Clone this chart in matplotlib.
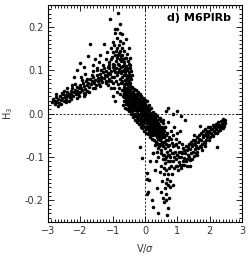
import numpy as np
import matplotlib
matplotlib.use('Agg')
from matplotlib import pyplot as plt
from matplotlib.ticker import MultipleLocator

# points, grouped by region (V/sigma, H3)
left_arm = [
    (-2.88, 0.026), (-2.85, 0.034), (-2.80, 0.022), (-2.77, 0.030), (-2.74, 0.038), (-2.71, 0.027), (-2.68, 0.033), (-2.65, 0.024), (-2.62, 0.040), (-2.60, 0.031),
    (-2.57, 0.036), (-2.55, 0.045), (-2.52, 0.029), (-2.49, 0.038), (-2.46, 0.043), (-2.44, 0.034), (-2.41, 0.050), (-2.38, 0.040), (-2.36, 0.046), (-2.33, 0.037),
    (-2.30, 0.052), (-2.28, 0.044), (-2.25, 0.058), (-2.22, 0.041), (-2.20, 0.049), (-2.17, 0.055), (-2.15, 0.046), (-2.12, 0.061), (-2.10, 0.052), (-2.07, 0.044),
    (-2.05, 0.058), (-2.02, 0.066), (-2.00, 0.050), (-1.97, 0.060), (-1.95, 0.055), (-1.92, 0.070), (-1.90, 0.048), (-1.88, 0.063), (-1.85, 0.057), (-1.83, 0.074),
    (-1.80, 0.066), (-1.78, 0.052), (-1.75, 0.070), (-1.72, 0.061), (-1.70, 0.080), (-1.68, 0.067), (-1.65, 0.075), (-1.62, 0.058), (-1.60, 0.084), (-1.58, 0.071),
    (-1.55, 0.078), (-1.52, 0.066), (-1.50, 0.088), (-1.47, 0.074), (-1.45, 0.081), (-1.42, 0.069), (-1.40, 0.092), (-1.37, 0.078), (-1.35, 0.085), (-1.32, 0.072),
    (-1.30, 0.095), (-1.27, 0.083), (-1.25, 0.090), (-1.22, 0.076), (-1.20, 0.099), (-1.17, 0.087), (-1.15, 0.094), (-1.12, 0.080), (-1.10, 0.104), (-1.07, 0.091),
    (-1.05, 0.098), (-1.02, 0.085), (-1.00, 0.108), (-2.60, 0.021), (-2.35, 0.030), (-2.10, 0.036), (-1.85, 0.045), (-2.50, 0.052), (-2.25, 0.066), (-1.95, 0.078),
    (-2.75, 0.045), (-2.70, 0.018), (-2.58, 0.048), (-2.45, 0.026), (-2.40, 0.058), (-2.30, 0.034), (-2.18, 0.068), (-2.05, 0.040), (-1.98, 0.085), (-1.90, 0.040),
    (-1.80, 0.080), (-1.72, 0.050), (-1.65, 0.090), (-1.55, 0.060), (-1.48, 0.100), (-1.38, 0.064), (-1.28, 0.106), (-1.20, 0.070), (-1.12, 0.112), (-1.04, 0.075),
]

upper_cloud = [
    (-2.10, 0.100), (-2.00, 0.117), (-1.90, 0.108), (-1.76, 0.133), (-1.70, 0.160), (-1.62, 0.112), (-1.55, 0.125), (-1.48, 0.104), (-1.42, 0.118), (-1.38, 0.135),
    (-1.30, 0.112), (-1.27, 0.160), (-1.22, 0.126), (-1.18, 0.142), (-1.12, 0.118), (-1.08, 0.218), (-1.05, 0.150), (-1.02, 0.130), (-0.98, 0.165), (-0.95, 0.112),
    (-0.93, 0.195), (-0.90, 0.145), (-0.88, 0.175), (-0.86, 0.128), (-0.84, 0.232), (-0.82, 0.158), (-0.80, 0.140), (-0.78, 0.185), (-0.77, 0.207), (-0.76, 0.168),
    (-0.74, 0.122), (-0.72, 0.150), (-0.71, 0.184), (-0.70, 0.135), (-0.68, 0.162), (-0.66, 0.118), (-0.64, 0.145), (-0.62, 0.128), (-0.60, 0.172), (-0.58, 0.110),
    (-0.56, 0.138), (-0.54, 0.120), (-0.52, 0.105), (-0.50, 0.150), (-0.48, 0.112), (-0.46, 0.128), (-0.44, 0.098), (-0.93, 0.186), (-0.87, 0.195), (-1.00, 0.142),
    (-0.96, 0.158), (-0.85, 0.115), (-0.79, 0.125), (-0.69, 0.110), (-0.63, 0.102), (-1.15, 0.108), (-1.35, 0.100), (-1.60, 0.098), (-1.85, 0.092), (-2.20, 0.085),
    (-1.05, 0.125), (-1.00, 0.115), (-0.97, 0.100), (-0.94, 0.135), (-0.91, 0.120), (-0.89, 0.105), (-0.87, 0.150), (-0.85, 0.095), (-0.83, 0.135), (-0.81, 0.112),
    (-0.79, 0.098), (-0.77, 0.145), (-0.75, 0.108), (-0.73, 0.132), (-0.70, 0.098), (-0.68, 0.125), (-0.66, 0.088), (-0.64, 0.112), (-0.61, 0.095), (-0.59, 0.128),
    (-0.57, 0.085), (-0.55, 0.100), (-0.53, 0.078), (-0.51, 0.115), (-0.49, 0.090), (-0.47, 0.070), (-0.45, 0.105), (-0.43, 0.080), (-0.41, 0.062), (-0.40, 0.090),
]

mid_left = [
    (-1.00, 0.070), (-0.97, 0.085), (-0.95, 0.060), (-0.92, 0.095), (-0.90, 0.075), (-0.88, 0.050), (-0.86, 0.088), (-0.84, 0.068), (-0.82, 0.102), (-0.80, 0.058),
    (-0.78, 0.080), (-0.76, 0.045), (-0.75, 0.093), (-0.73, 0.070), (-0.71, 0.055), (-0.70, 0.085), (-0.68, 0.040), (-0.66, 0.100), (-0.65, 0.062), (-0.63, 0.078),
    (-0.61, 0.050), (-0.60, 0.090), (-0.58, 0.068), (-0.56, 0.035), (-0.55, 0.082), (-0.53, 0.058), (-0.51, 0.095), (-0.50, 0.072), (-0.48, 0.045), (-0.46, 0.085),
    (-1.05, 0.060), (-1.10, 0.075), (-1.15, 0.065), (-0.98, 0.040), (-0.92, 0.030),
]

center = [
    (-0.66, 0.030), (-0.65, 0.045), (-0.67, 0.055), (-0.64, 0.038),
    (-0.63, 0.050), (-0.62, 0.028), (-0.61, 0.042), (-0.63, 0.060),
    (-0.60, 0.033), (-0.59, 0.048), (-0.58, 0.022), (-0.60, 0.056),
    (-0.57, 0.040), (-0.56, 0.052), (-0.55, 0.026), (-0.57, 0.030),
    (-0.54, 0.045), (-0.53, 0.020), (-0.52, 0.037), (-0.54, 0.058),
    (-0.51, 0.030), (-0.50, 0.048), (-0.49, 0.015), (-0.51, 0.040),
    (-0.48, 0.025), (-0.47, 0.052), (-0.46, 0.035), (-0.48, 0.010),
    (-0.45, 0.042), (-0.44, 0.020), (-0.43, 0.030), (-0.45, 0.055),
    (-0.42, 0.015), (-0.41, 0.036), (-0.40, 0.046), (-0.42, 0.026),
    (-0.39, 0.005), (-0.38, 0.030), (-0.37, 0.040), (-0.39, 0.020), (-0.38, 0.050),
    (-0.36, 0.012), (-0.35, 0.026), (-0.34, 0.036), (-0.36, 0.046), (-0.35, 0.000),
    (-0.33, 0.018), (-0.32, 0.030), (-0.31, 0.008), (-0.33, 0.042), (-0.32, -0.005),
    (-0.30, 0.025), (-0.29, 0.012), (-0.28, 0.035), (-0.30, 0.000), (-0.29, 0.045),
    (-0.27, 0.020), (-0.26, 0.005), (-0.25, 0.030), (-0.27, 0.040), (-0.26, -0.008),
    (-0.24, 0.014), (-0.23, 0.026), (-0.22, 0.000), (-0.24, 0.036), (-0.23, -0.012),
    (-0.21, 0.008), (-0.20, 0.020), (-0.19, 0.032), (-0.21, -0.005), (-0.20, 0.042),
    (-0.18, 0.015), (-0.17, 0.000), (-0.16, 0.026), (-0.18, -0.015), (-0.17, 0.036),
    (-0.15, 0.008), (-0.14, 0.020), (-0.13, -0.008), (-0.15, 0.030), (-0.14, -0.020),
    (-0.12, 0.002), (-0.11, 0.014), (-0.10, 0.026), (-0.12, -0.012), (-0.11, -0.025),
    (-0.09, 0.008), (-0.08, -0.004), (-0.07, 0.020), (-0.09, -0.018), (-0.08, 0.030),
    (-0.06, 0.000), (-0.05, 0.012), (-0.04, -0.012), (-0.06, 0.024), (-0.05, -0.026),
    (-0.03, 0.006), (-0.02, -0.006), (-0.01, 0.018), (-0.03, -0.020), (-0.02, 0.028),
    (0.00, -0.002), (0.01, 0.010), (0.02, -0.014), (0.00, 0.022), (0.01, -0.030),
    (0.03, 0.004), (0.04, -0.008), (0.05, -0.022), (0.03, 0.016), (0.04, -0.035),
    (0.06, -0.004), (0.07, 0.008), (0.08, -0.016), (0.06, -0.028), (0.07, 0.018),
    (0.09, -0.010), (0.10, 0.002), (0.11, -0.022), (0.09, -0.034), (0.10, 0.012),
    (0.12, -0.004), (0.13, -0.016), (0.14, -0.028), (0.12, 0.008), (0.13, -0.040),
    (0.15, -0.010), (0.16, -0.022), (0.17, 0.002), (0.15, -0.034), (0.16, -0.045),
    (0.18, -0.014), (0.19, -0.004), (0.20, -0.026), (0.18, -0.038), (0.19, -0.050),
    (0.21, -0.018), (0.22, -0.006), (0.23, -0.030), (0.21, -0.042),
    (0.24, -0.012), (0.25, -0.024), (0.26, -0.036), (0.24, -0.050),
    (0.27, -0.016), (0.28, -0.028), (0.29, -0.040), (0.27, -0.006),
    (0.30, -0.020), (0.31, -0.032), (0.32, -0.044), (0.30, -0.010),
    (0.33, -0.024), (0.34, -0.036), (0.35, -0.014), (0.33, -0.050),
    (0.36, -0.028), (0.37, -0.040), (0.38, -0.018), (0.36, -0.054),
    (0.39, -0.032), (0.40, -0.022), (0.41, -0.046), (0.39, -0.058),
    (0.42, -0.036), (0.43, -0.026), (0.44, -0.050),
    (0.45, -0.040), (0.46, -0.030), (0.47, -0.054),
    (0.48, -0.042), (0.49, -0.034), (0.50, -0.056),
    (0.51, -0.038), (0.52, -0.048), (0.53, -0.030),
    (0.54, -0.044), (0.55, -0.052), (0.56, -0.036),
    (0.57, -0.046), (0.58, -0.040), (0.60, -0.050),
]

center_edge = [
    (-0.70, 0.075), (-0.68, 0.020), (-0.65, 0.068), (-0.62, 0.012), (-0.59, 0.070), (-0.56, 0.010), (-0.53, 0.066), (-0.50, 0.005), (-0.47, 0.064), (-0.44, 0.000),
    (-0.41, 0.060), (-0.38, -0.008), (-0.35, 0.056), (-0.32, -0.015), (-0.29, 0.055), (-0.26, -0.020), (-0.23, 0.050), (-0.20, -0.025), (-0.17, 0.046), (-0.14, -0.030),
    (-0.11, 0.040), (-0.08, -0.034), (-0.05, 0.036), (-0.02, -0.040), (0.01, 0.032), (0.04, -0.046), (0.07, 0.028), (0.10, -0.048), (0.13, 0.020), (0.16, -0.055),
    (0.19, 0.012), (0.22, -0.058), (0.25, 0.004), (0.28, -0.062), (0.31, 0.000), (0.34, -0.066), (0.37, -0.006), (0.40, -0.070), (0.43, -0.012), (0.46, -0.072),
    (0.49, -0.018), (0.52, -0.070), (0.55, -0.022), (0.58, -0.066), (0.61, -0.030), (0.64, -0.050),
    (-0.64, 0.048), (-0.58, 0.040), (-0.52, 0.028), (-0.46, 0.044), (-0.40, 0.034), (-0.34, 0.022), (-0.28, 0.026), (-0.22, 0.018), (-0.16, 0.010), (-0.10, 0.004),
    (-0.04, 0.000), (0.02, -0.006), (0.08, -0.012), (0.14, -0.018), (0.20, -0.020), (0.26, -0.028), (0.32, -0.030), (0.38, -0.036), (0.44, -0.040), (0.50, -0.044),
]

mid_right = [
    (0.56, -0.016), (0.62, -0.030), (0.65, -0.060), (0.68, -0.045), (0.70, -0.075), (0.72, -0.020), (0.75, -0.055), (0.78, -0.085), (0.80, -0.040), (0.82, -0.068),
    (0.85, -0.050), (0.88, -0.090), (0.90, -0.032), (0.92, -0.072), (0.95, -0.058), (0.98, -0.095), (1.00, -0.045), (1.03, -0.078), (1.05, -0.065), (1.08, -0.040),
    (0.45, -0.070), (0.50, -0.085), (0.55, -0.075), (0.60, -0.095), (0.63, -0.080), (0.66, -0.100), (0.40, -0.080), (0.35, -0.065), (0.30, -0.072), (0.25, -0.090),
    (-0.15, -0.078), (0.45, -0.060), (0.58, -0.065), (0.73, -0.095), (0.85, -0.110), (-0.10, -0.103),
    (0.65, 0.007), (0.87, 0.000), (1.10, -0.005), (0.46, -0.011), (0.70, 0.012), (1.00, 0.005),
    (0.60, -0.055), (0.64, -0.070), (0.67, -0.088), (0.70, -0.060), (0.74, -0.072), (0.77, -0.100), (0.80, -0.058), (0.83, -0.090), (0.86, -0.075), (0.90, -0.100),
    (0.93, -0.088), (0.96, -0.070), (0.52, -0.065), (0.48, -0.090), (0.43, -0.075), (0.38, -0.088), (0.55, -0.095), (0.62, -0.105), (0.70, -0.095), (0.78, -0.110),
]

right_arm = [
    (0.95, -0.105), (0.97, -0.122), (1.00, -0.095), (1.02, -0.130), (1.04, -0.112), (1.06, -0.088), (1.08, -0.118), (1.10, -0.100), (1.12, -0.125), (1.14, -0.092),
    (1.16, -0.110), (1.18, -0.080), (1.20, -0.102), (1.22, -0.118), (1.24, -0.016), (1.25, -0.090), (1.27, -0.075), (1.29, -0.105), (1.31, -0.085), (1.33, -0.095),
    (1.35, -0.070), (1.37, -0.100), (1.39, -0.082), (1.41, -0.065), (1.43, -0.092), (1.45, -0.076), (1.47, -0.060), (1.49, -0.088), (1.51, -0.070), (1.53, -0.082),
    (1.55, -0.062), (1.57, -0.092), (1.59, -0.074), (1.61, -0.055), (1.63, -0.080), (1.65, -0.066), (1.67, -0.050), (1.69, -0.075), (1.70, -0.028), (1.72, -0.060),
    (1.74, -0.045), (1.76, -0.070), (1.78, -0.055), (1.80, -0.040), (1.82, -0.065), (1.84, -0.050), (1.86, -0.036), (1.88, -0.060), (1.90, -0.045), (1.92, -0.055),
    (1.94, -0.032), (1.96, -0.048), (1.98, -0.040), (2.00, -0.055), (2.02, -0.030), (2.04, -0.044), (2.06, -0.036), (2.08, -0.050), (2.10, -0.026), (2.12, -0.040),
    (2.14, -0.032), (2.16, -0.046), (2.18, -0.024), (2.20, -0.036), (2.22, -0.028), (2.23, -0.078), (2.25, -0.040), (2.27, -0.020), (2.29, -0.032), (2.31, -0.026),
    (2.33, -0.038), (2.35, -0.018), (2.37, -0.030), (2.39, -0.024), (2.41, -0.034), (2.43, -0.020), (2.45, -0.028), (2.48, -0.021), (2.46, -0.015), (2.42, -0.012),
    (1.30, -0.120), (1.45, -0.105), (1.60, -0.095), (1.75, -0.085), (1.50, -0.050), (1.85, -0.075), (1.40, -0.120), (1.15, -0.070),
    (1.00, -0.120), (1.05, -0.100), (1.10, -0.088), (1.15, -0.118), (1.20, -0.085), (1.26, -0.110), (1.32, -0.078), (1.38, -0.108), (1.44, -0.070), (1.50, -0.098),
    (1.56, -0.068), (1.62, -0.088), (1.68, -0.058), (1.74, -0.078), (1.80, -0.050), (1.86, -0.068), (1.92, -0.040), (1.98, -0.060), (2.04, -0.036), (2.10, -0.052),
    (2.16, -0.028), (2.22, -0.044), (2.28, -0.026), (2.34, -0.030), (2.40, -0.028),
]

lower_plume = [
    (0.25, -0.090), (0.40, -0.100), (0.55, -0.105), (0.62, -0.115), (0.70, -0.110), (0.75, -0.125), (0.80, -0.120), (0.66, -0.130), (0.60, -0.140), (0.72, -0.140),
    (0.68, -0.150), (0.76, -0.155), (0.64, -0.160), (0.70, -0.165), (0.87, -0.165), (0.06, -0.150), (0.09, -0.180), (0.37, -0.172), (0.62, -0.172), (0.56, -0.195),
    (0.22, -0.200), (0.25, -0.216), (0.71, -0.218), (0.40, -0.230), (0.68, -0.235), (0.50, -0.120), (0.45, -0.135), (0.58, -0.125), (0.52, -0.155), (0.65, -0.185),
    (0.74, -0.195), (0.60, -0.205), (0.30, -0.130), (0.15, -0.110), (0.35, -0.110), (0.82, -0.140), (0.90, -0.125), (0.48, -0.180), (0.66, -0.200), (0.78, -0.170),
    (0.12, -0.154), (0.06, -0.136), (0.06, -0.185),
]

groups = [left_arm, upper_cloud, mid_left, center, center_edge, mid_right, right_arm, lower_plume]
pts = np.array([p for g in groups for p in g])

fig = plt.figure(figsize=(2.49, 2.56), dpi=100)
ax = fig.add_axes([0.193, 0.133, 0.779, 0.847])

ax.scatter(pts[:, 0], pts[:, 1], s=6.5, c='black', marker='o', linewidths=0)
ax.axhline(0, color='black', ls=(0, (2.5, 2)), lw=0.6)
ax.axvline(0, color='black', ls=(0, (2.5, 2)), lw=0.6)

ax.set_xlim(-3, 3)
ax.set_ylim(-0.25, 0.25)
ax.xaxis.set_major_locator(MultipleLocator(1))
ax.xaxis.set_minor_locator(MultipleLocator(0.1))
ax.yaxis.set_major_locator(MultipleLocator(0.1))
ax.yaxis.set_minor_locator(MultipleLocator(0.01))
ax.yaxis.set_major_formatter(plt.FormatStrFormatter('%.1f'))
ax.tick_params(which='both', direction='in', top=True, right=True, width=0.6,
               labelsize=7, labelcolor='#333333', pad=3)
ax.tick_params(which='major', length=4)
ax.tick_params(which='minor', length=2)
for sp in ax.spines.values():
    sp.set_linewidth(0.8)

ax.set_xlabel(r'V/$\sigma$', fontsize=7, color='#333333', labelpad=4)
ax.set_ylabel(r'H$_3$', fontsize=7, color='#333333', labelpad=7)
ax.text(0.943, 0.963, 'd) M6PlRb', transform=ax.transAxes, ha='right', va='top',
        fontsize=8, fontweight='bold')

fig.savefig('out.png', dpi=100)
